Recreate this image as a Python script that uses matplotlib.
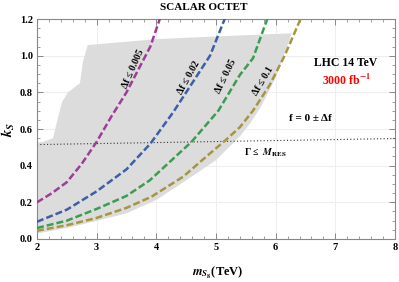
import numpy as np
import matplotlib
matplotlib.use('Agg')
import matplotlib.pyplot as plt
from matplotlib.ticker import MultipleLocator, FormatStrFormatter

plt.rcParams['font.family'] = ['Liberation Serif', 'DejaVu Serif']
plt.rcParams['font.weight'] = 'bold'
plt.rcParams['mathtext.fontset'] = 'stix'

# curves: (m_S8 [TeV], k_S)
m_005 = [2.0, 2.25, 2.5, 2.75, 3.0, 3.25, 3.5, 3.9, 4.1]
k_005 = [0.20, 0.25, 0.31, 0.41, 0.53, 0.67, 0.80, 1.05, 1.24]
m_02 = [2.0, 2.5, 3.0, 3.5, 3.9, 4.28, 4.5, 4.9, 5.17]
k_02 = [0.094, 0.16, 0.26, 0.38, 0.52, 0.69, 0.80, 1.0, 1.22]
m_05 = [2.0, 2.5, 3.0, 3.5, 3.89, 4.59, 5.04, 5.40, 5.62, 5.87]
k_05 = [0.06, 0.10, 0.164, 0.235, 0.32, 0.53, 0.70, 0.895, 0.986, 1.21]
m_1 = [2.0, 2.5, 3.0, 3.5, 3.92, 4.45, 4.9, 5.15, 5.4, 5.62, 5.9, 6.15, 6.43]
k_1 = [0.045, 0.075, 0.115, 0.17, 0.231, 0.34, 0.467, 0.536, 0.61, 0.70, 0.84, 1.0, 1.21]

# shaded region outline
band_m = [2.0, 2.1, 2.27, 2.35, 2.42, 2.52, 2.72, 2.77, 2.85, 4.0, 5.0, 6.27,
          6.0, 5.75, 5.57, 5.4, 5.0, 4.5, 4.0, 3.5, 2.89, 2.5, 2.0]
band_k = [0.525, 0.53, 0.55, 0.66, 0.747, 0.80, 0.85, 0.966, 1.058, 1.09, 1.105, 1.122,
          0.88, 0.72, 0.63, 0.56, 0.43, 0.32, 0.213, 0.14, 0.09, 0.06, 0.03]

# width limit line
gam_m = [2.0, 8.0]
gam_k = [0.515, 0.548]

labels = ['Δf ≤ 0.005', 'Δf ≤ 0.02', 'Δf ≤ 0.05', 'Δf ≤ 0.1']
colors = ['#9e3d99', '#3d5ea8', '#3c9c50', '#a5963f']

fig = plt.figure(figsize=(3.99, 2.82), dpi=100)
ax = fig.add_axes([0.0927, 0.1525, 0.8973, 0.7801])

ax.fill(band_m, band_k, color='#dcdcdc', lw=0, zorder=1)
ax.plot(gam_m, gam_k, color='#333333', ls=(0, (1, 2)), lw=0.8, zorder=2)

curves = [(m_005, k_005), (m_02, k_02), (m_05, k_05), (m_1, k_1)]
for (m, k), c in zip(curves, colors):
    ax.plot(m, k, color=c, lw=1.8, ls=(0, (2.8, 1.2)), zorder=3)

lab_pos = [(3.61, 0.925, 66), (4.55, 0.88, 61), (5.17, 0.886, 64), (5.79, 0.86, 59)]
for (x, y, r), t in zip(lab_pos, labels):
    ax.text(x, y, t, rotation=r, ha='center', va='center', fontsize=7,
            fontweight='bold', zorder=4)

ax.text(7.18, 0.96, 'LHC 14 TeV', ha='center', va='center', fontsize=8.5, fontweight='bold')
ax.text(7.18, 0.867, r'3000 fb$^{\mathbf{-1}}$', ha='center', va='center', fontsize=8.5,
        fontweight='bold', color='red')
ax.text(6.59, 0.66, 'f = 0 ± Δf', ha='center', va='center', fontsize=8, fontweight='bold')
ax.text(5.83, 0.47, r'Γ ≤  $M_{\mathbf{RES}}$', ha='center', va='center', fontsize=7,
        fontweight='bold')

ax.set_xlim(2, 8)
ax.set_ylim(0, 1.2)
ax.xaxis.set_major_locator(MultipleLocator(1))
ax.xaxis.set_minor_locator(MultipleLocator(0.2))
ax.yaxis.set_major_locator(MultipleLocator(0.2))
ax.yaxis.set_minor_locator(MultipleLocator(0.05))
ax.yaxis.set_major_formatter(FormatStrFormatter('%.1f'))
ax.tick_params(which='both', direction='in', top=True, right=True, color='#777777',
               labelsize=7.5, pad=3)
ax.tick_params(which='major', length=4, width=0.6)
ax.tick_params(which='minor', length=2, width=0.5)
for lab in ax.get_xticklabels() + ax.get_yticklabels():
    lab.set_fontweight('bold')
for s in ax.spines.values():
    s.set_color('#888888')
    s.set_linewidth(0.8)
ax.grid(True, which='major', color='#eeeeee', lw=0.8, zorder=0)
ax.set_axisbelow(True)

ax.set_xlabel(r'$m_{S_8}$(TeV)', fontsize=9, fontweight='bold')
ax.xaxis.set_label_coords(0.505, -0.12)
ax.set_ylabel(r'$k_S$', fontsize=10.5, rotation=90)
ax.yaxis.set_label_coords(-0.055, 0.5)
fig.text(204 / 399, 1 - 8 / 282, 'SCALAR OCTET', ha='center', va='center', fontsize=8,
         fontweight='bold')

fig.savefig('out.png', dpi=100)
